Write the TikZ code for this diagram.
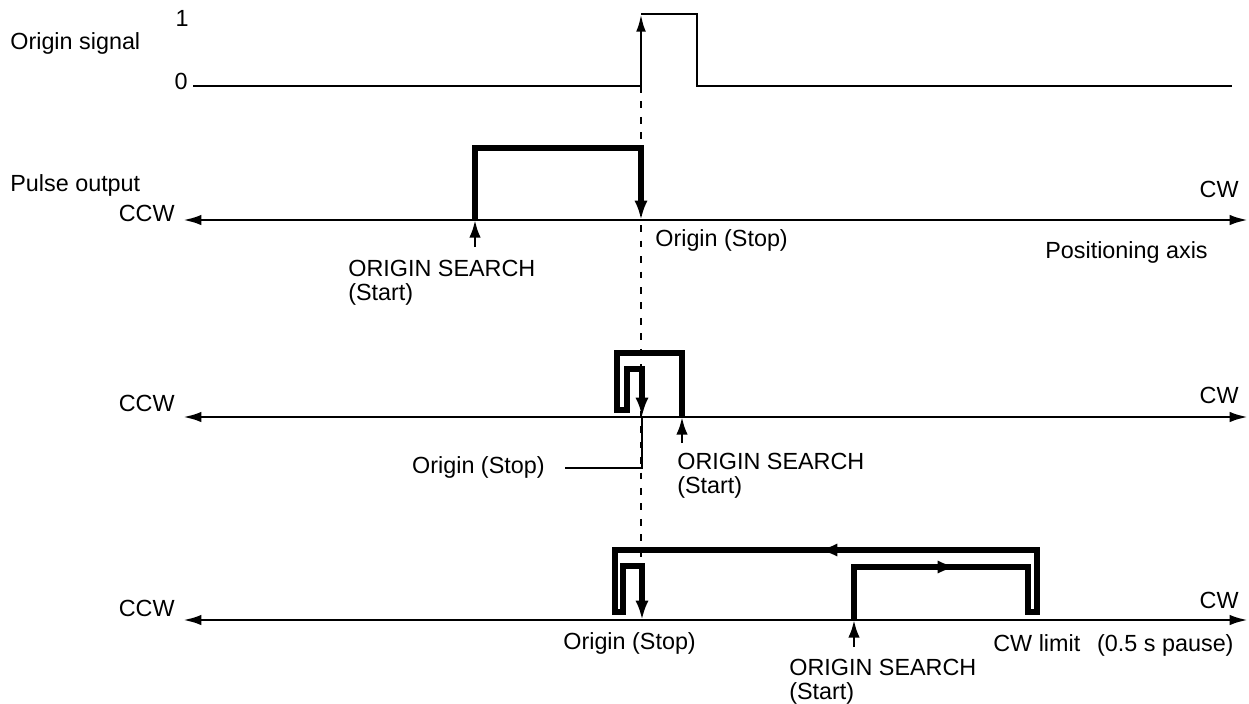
\documentclass[tikz,border=0pt]{standalone}
\usepackage{fontspec}
\setmainfont{Liberation Sans}
\usetikzlibrary{arrows.meta}
\begin{document}
\begin{tikzpicture}[x=0.02cm, y=-0.02cm, font=\fontsize{13.3}{13.6}\selectfont,
    every node/.style={inner sep=0pt},
    axis/.style={line width=1.6pt, {Latex[length=10.5pt,width=6pt]}-{Latex[length=10.5pt,width=6pt]}},
    sigline/.style={line width=1.6pt},
    route/.style={line width=2.9pt},
    headdown/.style={-{Latex[length=11pt,width=7.5pt]}},
    startarrow/.style={line width=1.6pt, -{Latex[length=10pt,width=6.5pt]}}]
  \useasboundingbox (0,0) rectangle (1249,704);
  % time of the origin signal
  \draw[line width=1.5pt, dash pattern=on 3.8pt off 5pt] (641,86) -- (641,567);

  % origin signal
  \node[anchor=mid west] (sig) at (10,45) {Origin signal};
  \node[anchor=mid] (one) at (182,22) {1};
  \node[anchor=mid east] (zero) at (188,85) {0};
  \draw[sigline] (193,86) -- (641,86);
  \draw[sigline, -{Latex[length=10pt,width=5.5pt]}] (641,86) -- (641,14);
  \draw[sigline] (641,14) -- (697,14) -- (697,86) -- (1232,86);

  % positioning axes
  \foreach \n/\y/\l/\r in {a/220/217/193, b/417/407/399, c/620/612/604} {
    \draw[axis] (183,\y) -- (1248,\y);
    \node[anchor=mid east] (ccw\n) at (175,\l) {CCW};
    \node[anchor=mid east] (cw\n) at (1239,\r) {CW};
  }

  % search from the CCW side
  \node[anchor=mid west] (pulse) at (10,187) {Pulse output};
  \draw[route, headdown] (475,220) -- (475,148) -- (641,148) -- (641,220);
  \draw[startarrow] (475,247) -- (475,220);
  \node[anchor=mid west] (stopa) at (655,242) {Origin (Stop)};
  \node[anchor=mid west] (posaxis) at (1045,254) {Positioning axis};
  \node[anchor=north west, align=left] (searcha) at (348,260) {ORIGIN SEARCH\\(Start)};

  % search starting just past the origin
  \draw[route, headdown] (682,417) -- (682,353) -- (617,353) -- (617,410) -- (627,410)
    -- (627,369) -- (642,369) -- (642,417);
  \draw[startarrow] (682,443) -- (682,417);
  \node[anchor=mid east] (stopb) at (545,469) {Origin (Stop)};
  \draw[sigline] (565,468) -- (642,468) -- (642,417);
  \node[anchor=north west, align=left] (searchb) at (677,453) {ORIGIN SEARCH\\(Start)};

  % search reversing at the CW limit
  \draw[route, headdown] (854,620) -- (854,567) -- (1028,567) -- (1028,612) -- (1037,612)
    -- (1037,550) -- (615,550) -- (615,612) -- (623,612) -- (623,566) -- (642,566) -- (642,620);
  \draw[route, -{Latex[length=11pt,width=7.5pt]}] (925,567) -- (957,567);
  \draw[route, -{Latex[length=11pt,width=7.5pt]}] (850,550) -- (818,550);
  \draw[startarrow] (854,647) -- (854,620);
  \node[anchor=mid west] (stopc) at (563,645) {Origin (Stop)};
  \node[anchor=north west, align=left] (searchc) at (789,659) {ORIGIN SEARCH\\(Start)};
  \node[anchor=mid west] (cwlimit) at (993,647) {CW limit~~\,(0.5 s pause)};
\end{tikzpicture}
\end{document}
